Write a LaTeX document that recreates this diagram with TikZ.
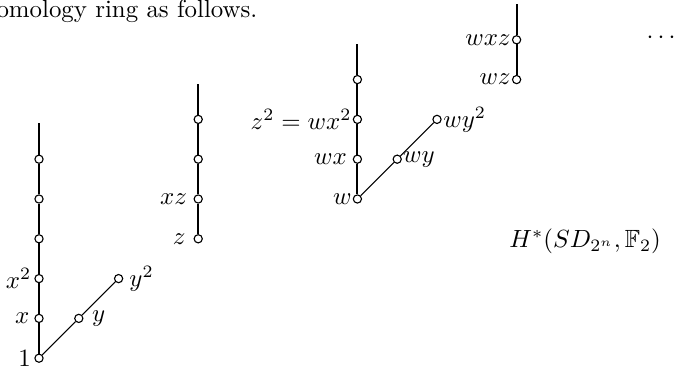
\documentclass[tikz,border=0pt]{standalone}
\usepackage{amssymb}
\begin{document}
\begin{tikzpicture}[x=16pt,y=16pt,
  dot/.style={circle,draw,fill=white,inner sep=0pt,minimum size=3.3pt,line width=0.45pt},
  thickln/.style={line width=0.8pt},
  thinln/.style={line width=0.45pt},
  lbs/.style={inner sep=#1},
  lbs/.default=1.5pt]
\useasboundingbox (-0.98,-0.226) rectangle (16.005,9.0);
\node[anchor=base west, inner sep=0pt] (txt) at (-1.08,8.56) {omology ring as follows.};

% column 1
\node[dot,label={[lbs=1.2pt]left:$1$}] (a0) at (0,0) {};
\node[dot,label={[lbs=1.8pt]left:$x$}] (a1) at (0,1) {};
\node[dot,label={[lbs=1pt]left:$x^2$}] (a2) at (0,2) {};
\node[dot] (a3) at (0,3) {};
\node[dot] (a4) at (0,4) {};
\node[dot] (a5) at (0,5) {};
\coordinate (ta) at (0,5.9);
\node[dot,label={[lbs=3.3pt]right:$y$}] (y1) at (1,1) {};
\node[dot,label={[lbs=2.3pt]right:$y^2$}] (y2) at (2,2) {};
\draw[thickln] (a0) -- (a1);
\draw[thickln] (a1) -- (a2);
\draw[thickln] (a2) -- (a3);
\draw[thickln] (a3) -- (a4);
\draw[thickln] (a4) -- (a5);
\draw[thickln] (a5) -- (ta);
\draw[thinln] (a0) -- (y1);
\draw[thinln] (y1) -- (y2);

% column 2
\node[dot,label={[lbs=3pt]left:$z$}] (b3) at (4,3) {};
\node[dot,label={[lbs=2.4pt]left:$xz$}] (b4) at (4,4) {};
\node[dot] (b5) at (4,5) {};
\node[dot] (b6) at (4,6) {};
\coordinate (tb) at (4,6.9);
\draw[thickln] (b3) -- (b4);
\draw[thickln] (b4) -- (b5);
\draw[thickln] (b5) -- (b6);
\draw[thickln] (b6) -- (tb);

% column 3
\node[dot,label={[lbs=0.3pt]left:$w$}] (c4) at (8,4) {};
\node[dot,label={[lbs=2.2pt]left:$wx$}] (c5) at (8,5) {};
\node[dot,label={[lbs=0.3pt]left:$z^2=wx^2$}] (c6) at (8,6) {};
\node[dot] (c7) at (8,7) {};
\coordinate (tc) at (8,7.9);
\node[dot,label={[lbs=0.3pt]right:$wy$}] (d5) at (9,5) {};
\node[dot,label={[lbs=0.5pt]right:$wy^2$}] (d6) at (10,6) {};
\draw[thickln] (c4) -- (c5);
\draw[thickln] (c5) -- (c6);
\draw[thickln] (c6) -- (c7);
\draw[thickln] (c7) -- (tc);
\draw[thinln] (c4) -- (d5);
\draw[thinln] (d5) -- (d6);

% column 4
\node[dot,label={[lbs=0.3pt]left:$wz$}] (e7) at (12,7) {};
\node[dot,label={[lbs=0.3pt]left:$wxz$}] (e8) at (12,8) {};
\coordinate (te) at (12,8.9);
\draw[thickln] (e7) -- (e8);
\draw[thickln] (e8) -- (te);

\node (dots) at (15.63,8.05) {$\cdots$};
\node (ring) at (13.72,2.93) {$H^*(SD_{2^n},\mathbb{F}_2)$};
\end{tikzpicture}
\end{document}
